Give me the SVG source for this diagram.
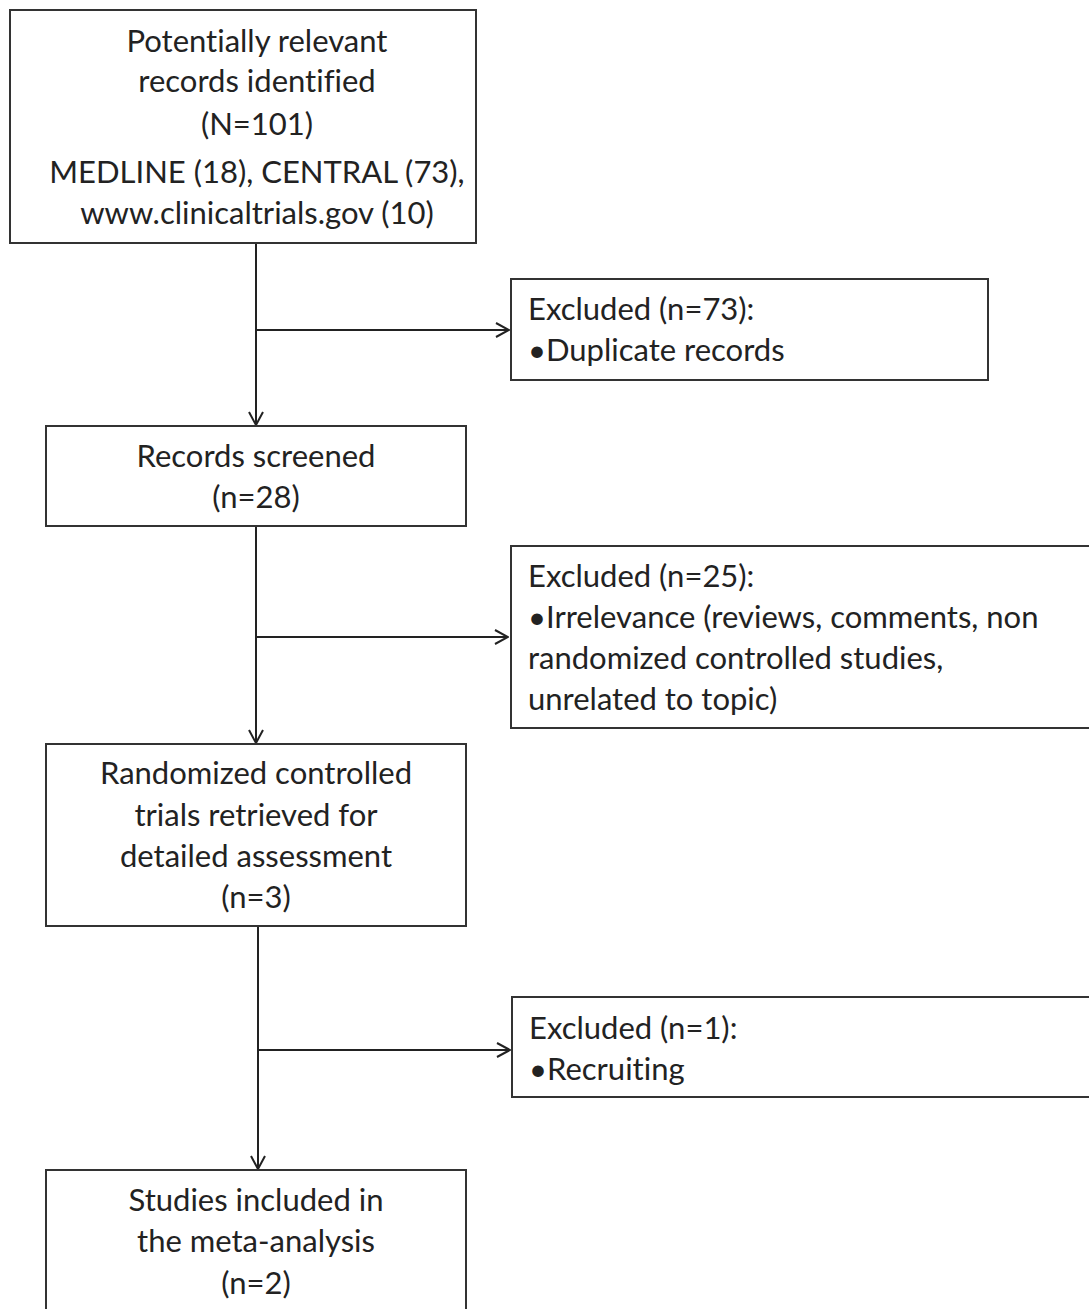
<svg xmlns="http://www.w3.org/2000/svg" width="1089" height="1309" viewBox="0 0 1089 1309">
<style>
.box{fill:#fff;stroke:#333;stroke-width:2}
.t{font-family:Lato,"Open Sans","Liberation Sans",sans-serif;font-size:31px;fill:#222;font-variant-ligatures:none}
.c{text-anchor:middle}
.ln{fill:none;stroke:#222;stroke-width:2}
</style>
<defs>
<marker id="ah" viewBox="0 0 16 16" refX="15" refY="8" markerWidth="16" markerHeight="16" markerUnits="userSpaceOnUse" orient="auto">
<path d="M2,1 L15,8 L2,15" fill="none" stroke="#222" stroke-width="2"/>
</marker>
</defs>
<rect width="1089" height="1309" fill="#fff"/>
<g id="connectors">
<line class="ln" x1="256" y1="243" x2="256" y2="425" marker-end="url(#ah)"/>
<line class="ln" x1="256" y1="330" x2="509" y2="330" marker-end="url(#ah)"/>
<line class="ln" x1="256" y1="526" x2="256" y2="743" marker-end="url(#ah)"/>
<line class="ln" x1="256" y1="637" x2="508" y2="637" marker-end="url(#ah)"/>
<line class="ln" x1="258" y1="926" x2="258" y2="1169" marker-end="url(#ah)"/>
<line class="ln" x1="258" y1="1050" x2="510" y2="1050" marker-end="url(#ah)"/>
</g>
<g id="identified">
<rect class="box" x="10" y="10" width="466" height="233"/>
<text class="t c" x="257" y="52">Potentially relevant</text>
<text class="t c" x="257" y="92">records identified</text>
<text class="t c" x="257" y="135">(N=101)</text>
<text class="t c" x="257" y="183">MEDLINE (18), CENTRAL (73),</text>
<text class="t c" x="257" y="224">www.clinicaltrials.gov (10)</text>
</g>
<g id="excluded1">
<rect class="box" x="511" y="279" width="477" height="101"/>
<text class="t" x="528" y="320">Excluded (n=73):</text>
<text class="t" x="528" y="361">•Duplicate records</text>
</g>
<g id="screened">
<rect class="box" x="46" y="426" width="420" height="100"/>
<text class="t c" x="256" y="467">Records screened</text>
<text class="t c" x="256" y="508">(n=28)</text>
</g>
<g id="excluded2">
<rect class="box" x="511" y="546" width="580" height="182"/>
<text class="t" x="528" y="587">Excluded (n=25):</text>
<text class="t" x="528" y="628">•Irrelevance (reviews, comments, non</text>
<text class="t" x="528" y="669">randomized controlled studies,</text>
<text class="t" x="528" y="710">unrelated to topic)</text>
</g>
<g id="retrieved">
<rect class="box" x="46" y="744" width="420" height="182"/>
<text class="t c" x="256" y="784">Randomized controlled</text>
<text class="t c" x="256" y="826">trials retrieved for</text>
<text class="t c" x="256" y="867">detailed assessment</text>
<text class="t c" x="256" y="908">(n=3)</text>
</g>
<g id="excluded3">
<rect class="box" x="512" y="997" width="579" height="100"/>
<text class="t" x="529" y="1039">Excluded (n=1):</text>
<text class="t" x="529" y="1080">•Recruiting</text>
</g>
<g id="included">
<rect class="box" x="46" y="1170" width="420" height="150"/>
<text class="t c" x="256" y="1211">Studies included in</text>
<text class="t c" x="256" y="1252">the meta-analysis</text>
<text class="t c" x="256" y="1294">(n=2)</text>
</g>
</svg>
